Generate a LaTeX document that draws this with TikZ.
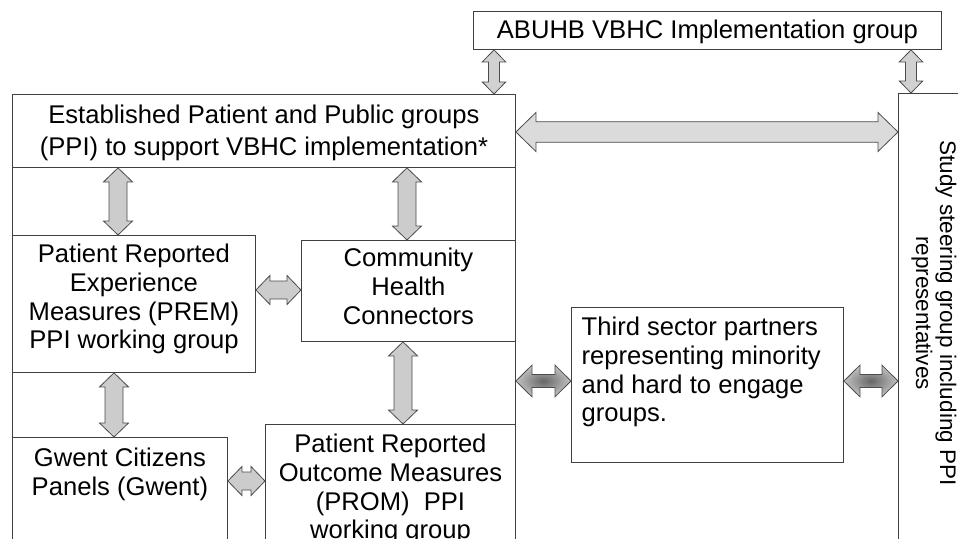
\documentclass[tikz,border=0pt]{standalone}
\usepackage{fontspec}
\setmainfont{Liberation Sans}
\usepackage{tikz}
\usetikzlibrary{positioning, calc}
\usepackage{xcolor}

% sizes of the block arrows
\tikzset{
    shafthalf/.store in=\shafthalf,
    headhalf/.store in=\headhalf,
    tiplen/.store in=\tiplen
}

% two-headed block arrow on the vertical line x=#2, from the y of #3 to the y of #4
\newcommand{\vlink}[4][]{%
    \path[#1] let \p1=(#3), \p2=(#4), \p3=(#2,0) in
        (\x3,\y1) -- (\x3+\headhalf pt,\y1-\tiplen pt) -- (\x3+\shafthalf pt,\y1-\tiplen pt)
        -- (\x3+\shafthalf pt,\y2+\tiplen pt) -- (\x3+\headhalf pt,\y2+\tiplen pt) -- (\x3,\y2)
        -- (\x3-\headhalf pt,\y2+\tiplen pt) -- (\x3-\shafthalf pt,\y2+\tiplen pt)
        -- (\x3-\shafthalf pt,\y1-\tiplen pt) -- (\x3-\headhalf pt,\y1-\tiplen pt) -- cycle;
}

% two-headed block arrow on the horizontal line y=#2, from the x of #3 to the x of #4
\newcommand{\hlink}[4][]{%
    \path[#1] let \p1=(#3), \p2=(#4), \p3=(0,#2) in
        (\x1,\y3) -- (\x1+\tiplen pt,\y3+\headhalf pt) -- (\x1+\tiplen pt,\y3+\shafthalf pt)
        -- (\x2-\tiplen pt,\y3+\shafthalf pt) -- (\x2-\tiplen pt,\y3+\headhalf pt) -- (\x2,\y3)
        -- (\x2-\tiplen pt,\y3-\headhalf pt) -- (\x2-\tiplen pt,\y3-\shafthalf pt)
        -- (\x1+\tiplen pt,\y3-\shafthalf pt) -- (\x1+\tiplen pt,\y3-\headhalf pt) -- cycle;
}

\begin{document}
\begin{tikzpicture}[
    x=1pt, y=-1pt,
    box/.style={rectangle, draw=black!75, line width=0.9pt, fill=white, inner sep=0pt, anchor=north west},
    txt/.style={inner sep=0pt, align=center, font=\fontsize{25.6}{28.7}\selectfont},
    linkbase/.style={draw=black!70, line width=0.8pt},
    greylink/.style={linkbase, fill=gray!40, shafthalf=9, headhalf=14.5, tiplen=14},
    toplink/.style={linkbase, top color=black!18, middle color=black!62, bottom color=black!18, shafthalf=5.5, headhalf=11.7, tiplen=12},
    widelink/.style={linkbase, left color=black!14, middle color=black!56, right color=black!14, shafthalf=10.3, headhalf=19.5, tiplen=20},
    sidelink/.style={linkbase, inner color=black!60, outer color=black!24, shafthalf=6.5, headhalf=15.8, tiplen=16}
]

\useasboundingbox (0,0) rectangle (958,538);
\clip (0,0) rectangle (958,538);
\fill[white] (0,0) rectangle (958,538);

% Boxes
\node (abuhb) [box, minimum width=468pt, minimum height=38pt] at (473,11) {};
\node (ppiframe) [box, minimum width=503pt, minimum height=480pt] at (12,94) {};
\node (ppi) [box, minimum width=503pt, minimum height=73pt] at (12,94) {};
\node (study) [box, minimum width=100pt, minimum height=480pt] at (898,93) {};
\node (prem) [box, minimum width=243pt, minimum height=137pt] at (12,235) {};
\node (chc) [box, minimum width=214pt, minimum height=101pt] at (301,240) {};
\node (gwent) [box, minimum width=215pt, minimum height=130pt] at (12,437) {};
\node (prom) [box, minimum width=250pt, minimum height=140pt] at (265,424) {};
\node (third) [box, minimum width=272pt, minimum height=155pt] at (571,307) {};

% Texts
\node (abuhbtext) [txt, below=9pt of abuhb.north] {ABUHB VBHC Implementation group};
\node (ppitext) [txt, below=11pt of ppi.north, font=\fontsize{25.6}{32}\selectfont]
    {Established Patient and Public groups\\(PPI) to support VBHC implementation*};
\node (premtext) [txt, below=9pt of prem.north]
    {Patient Reported\\Experience\\Measures (PREM)\\PPI working group};
\node (chctext) [txt, below=8pt of chc.north] {Community\\Health\\Connectors};
\node (gwenttext) [txt, below=11pt of gwent.north] {Gwent Citizens\\Panels (Gwent)};
\node (promtext) [txt, below=10pt of prom.north]
    {Patient Reported\\Outcome Measures\\(PROM)\ \ PPI\\working group};
\node (thirdtext) [txt, align=left, below right=10pt and 10.5pt of third.north west]
    {Third sector partners\\representing minority\\and hard to engage\\groups.};
\node (studytext) [txt, rotate=-90, font=\fontsize{22.5}{24}\selectfont] at (934,313)
    {Study steering group including PPI\\representatives};

% Arrows
\vlink[toplink]{494}{abuhb.south}{ppi.north}
\vlink[toplink]{911}{abuhb.south}{study.north}
\hlink[widelink]{132}{ppi.east}{study.west}
\vlink[greylink]{118}{ppi.south}{prem.north}
\vlink[greylink]{407}{ppi.south}{chc.north}
\hlink[greylink]{290}{prem.east}{chc.west}
\vlink[greylink]{114}{prem.south}{gwent.north}
\vlink[greylink]{403}{chc.south}{prom.north}
\hlink[greylink]{481}{gwent.east}{prom.west}
\hlink[sidelink]{381}{ppiframe.east}{third.west}
\hlink[sidelink]{381}{third.east}{study.west}

\end{tikzpicture}
\end{document}
